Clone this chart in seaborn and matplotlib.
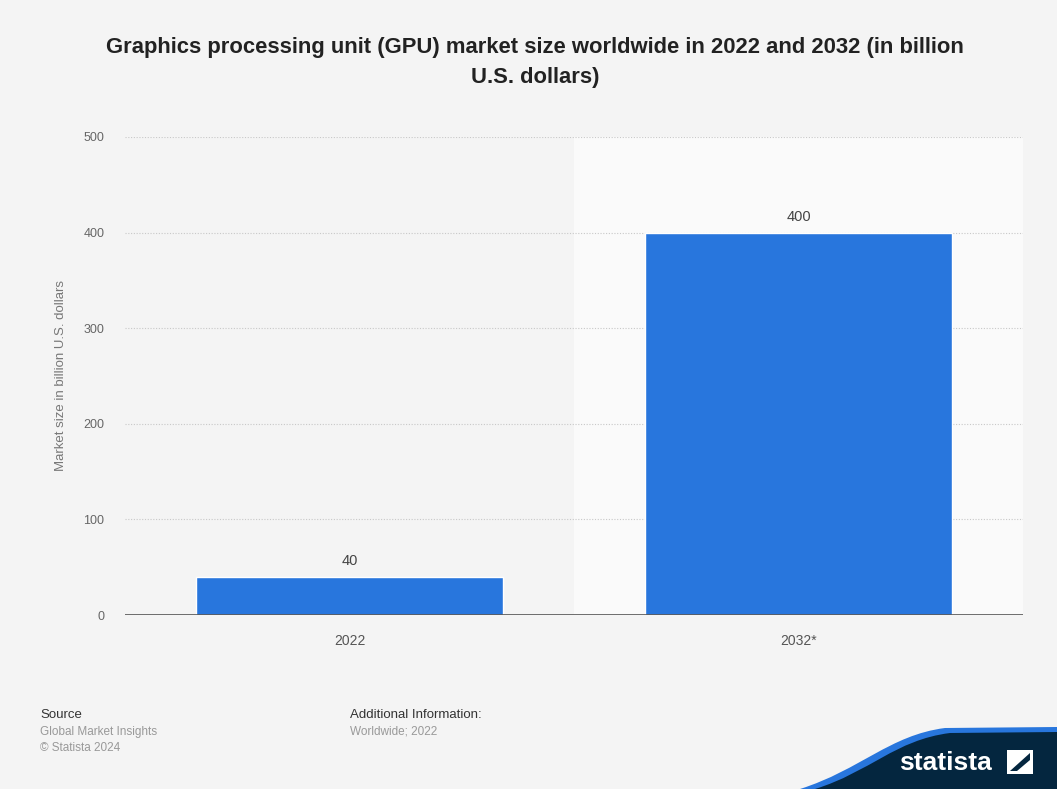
import numpy as np
import pandas as pd
import matplotlib.pyplot as plt
import seaborn as sns
from matplotlib.patches import PathPatch, Polygon
from matplotlib.path import Path

# Data
years = ["2022", "2032*"]
market_size = [40, 400]
y_ticks = [0, 100, 200, 300, 400, 500]

df = pd.DataFrame({"year": years, "size": market_size})

sns.set_theme(style="white")
plt.rcParams["font.family"] = ["Liberation Sans", "DejaVu Sans"]

bg = "#f4f4f4"
fig = plt.figure(figsize=(10.57, 7.89), dpi=100, facecolor=bg)
ax = fig.add_axes([0.1183, 0.2205, 0.8495, 0.6059])
ax.set_facecolor(bg)

# forecast shading
ax.axvspan(0.5, 1.5, color="#fafafa", zorder=0, lw=0)

sns.barplot(data=df, x="year", y="size", color="#2876dd", width=0.684,
            saturation=1, ax=ax, zorder=3)

ax.set_xlim(-0.5, 1.5)
ax.set_ylim(0, 500)
ax.set_yticks(y_ticks)
for t in y_ticks[1:]:
    ax.axhline(t, color="#c8c8c8", lw=0.8, ls=(0, (1, 1.5)), zorder=1)
ax.axhline(0, color="#555555", lw=1.2, zorder=4)

for s in ax.spines.values():
    s.set_visible(False)
ax.tick_params(axis="y", length=0, pad=15, labelsize=9, labelcolor="#666666")
ax.tick_params(axis="x", length=0, pad=14, labelsize=10, labelcolor="#555555")
ax.set_xlabel("")
ax.set_ylabel("Market size in billion U.S. dollars", fontsize=9.5,
              color="#777777", labelpad=12)

for i, v in enumerate(market_size):
    ax.text(i, v + 9, str(v), ha="center", va="bottom", fontsize=10.5,
            color="#444444")

fig.text(0.506, 0.921, "Graphics processing unit (GPU) market size worldwide in 2022 and 2032 (in billion\nU.S. dollars)",
         ha="center", va="center", fontsize=15.8, fontweight="bold",
         color="#222222", linespacing=1.55)

# footer
fig.text(40 / 1057, 1 - 715 / 789, "Source", fontsize=9.5, color="#333333", va="center")
fig.text(40 / 1057, 1 - 732 / 789, "Global Market Insights", fontsize=8.5, color="#999999", va="center")
fig.text(40 / 1057, 1 - 748 / 789, "\u00a9 Statista 2024", fontsize=8.5, color="#999999", va="center")
fig.text(350 / 1057, 1 - 715 / 789, "Additional Information:", fontsize=9.5, color="#333333", va="center")
fig.text(350 / 1057, 1 - 732 / 789, "Worldwide; 2022", fontsize=8.5, color="#999999", va="center")

# statista wave logo
W, H = 1057.0, 789.0
def fc(x, y):
    return (x / W, 1 - y / H)

verts = [fc(800, 789), fc(860, 770), fc(890, 735), fc(945, 728), fc(1057, 727),
         fc(1057, 789), fc(800, 789)]
codes = [Path.MOVETO, Path.CURVE4, Path.CURVE4, Path.CURVE4, Path.LINETO,
         Path.LINETO, Path.CLOSEPOLY]
fig.patches.append(PathPatch(Path(verts, codes), facecolor="#2876dd", lw=0,
                             transform=fig.transFigure))
verts2 = [fc(815, 789), fc(870, 772), fc(895, 740), fc(950, 733), fc(1057, 732),
          fc(1057, 789), fc(815, 789)]
fig.patches.append(PathPatch(Path(verts2, codes), facecolor="#04263f", lw=0,
                             transform=fig.transFigure))
fig.text(899 / W, 1 - 763 / H, "statista", fontsize=19, fontweight="bold",
         color="white", va="center", ha="left")
fig.patches.append(Polygon([fc(1007, 750), fc(1033, 750), fc(1033, 774), fc(1007, 774)],
                           closed=True, facecolor="white", lw=0, transform=fig.transFigure))
fig.patches.append(Polygon([fc(1010, 771), fc(1030, 753), fc(1030, 760), fc(1017, 771)],
                           closed=True, facecolor="#04263f", lw=0, transform=fig.transFigure))

fig.savefig("out.png", dpi=100, facecolor=bg)
